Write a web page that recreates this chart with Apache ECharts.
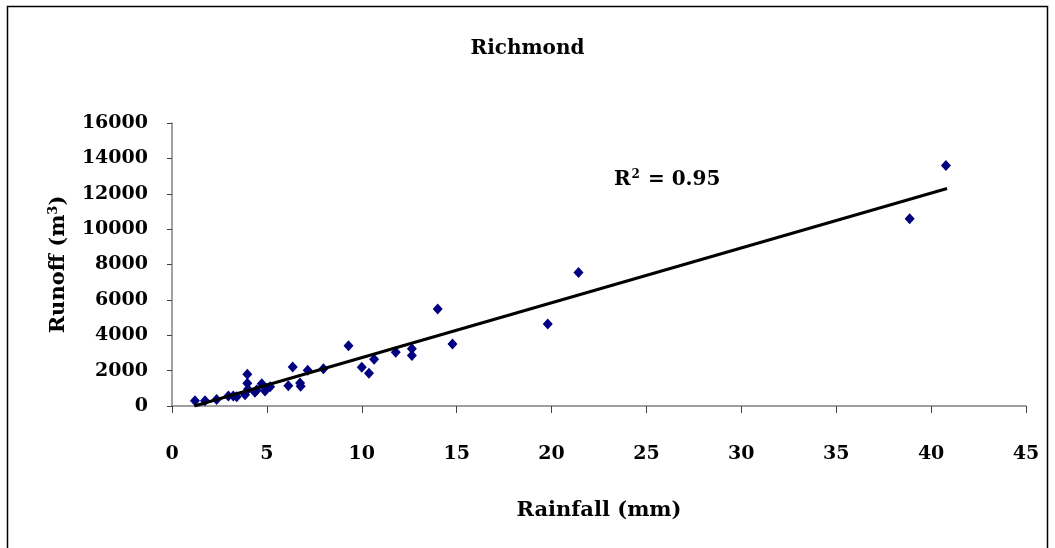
<!DOCTYPE html>
<html>
<head>
<meta charset="utf-8">
<script src="https://cdn.jsdelivr.net/npm/echarts@6/dist/echarts.min.js"></script>
<style>
html,body{margin:0;padding:0;background:#fff;}
#chart{width:1055px;height:548px;}
</style>
</head>
<body>
<div id="chart"></div>
<script>
// Data
const rainfall = [1.21, 1.74, 2.35, 2.97, 3.23, 3.41, 3.97, 3.97, 3.85, 4.0, 4.37, 4.46, 4.73, 4.9, 5.0, 5.17, 6.13, 6.36, 6.75, 6.78, 7.15, 7.98, 9.3, 10.0, 10.38, 10.65, 11.79, 12.64, 12.64, 14.0, 14.78, 19.8, 21.42, 38.87, 40.78];
const runoff   = [300, 300, 370, 566, 560, 520, 1795, 1285, 640, 950, 780, 900, 1260, 850, 1000, 1094, 1140, 2210, 1300, 1110, 2020, 2110, 3400, 2193, 1850, 2646, 3043, 3230, 2850, 5479, 3500, 4630, 7553, 10580, 13600];
const trendX = [1.18, 40.84];
const trendY = [0, 12295];
const xTicks = [0, 5, 10, 15, 20, 25, 30, 35, 40, 45];
const yTicks = [0, 2000, 4000, 6000, 8000, 10000, 12000, 14000, 16000];
const titleText = 'Richmond';
const rSquared = '0.95';

const serif = '"DejaVu Serif", "Liberation Serif", serif';
const chart = echarts.init(document.getElementById('chart'));
chart.setOption({
  animation: false,
  backgroundColor: '#fff',
  title: {
    text: titleText, left: 'center', top: 34,
    textStyle: {fontFamily: serif, fontWeight: 'bold', fontSize: 20, color: '#000'}
  },
  grid: {left: 172, right: 29, top: 123, bottom: 142},
  xAxis: {
    type: 'value', min: xTicks[0], max: xTicks[xTicks.length - 1], interval: 5,
    name: 'Rainfall (mm)', nameLocation: 'middle', nameGap: 94,
    nameTextStyle: {fontFamily: serif, fontWeight: 'bold', fontSize: 21, color: '#000'},
    axisLine: {lineStyle: {color: '#808080', width: 1.5}},
    axisTick: {show: true, length: 7, inside: false, lineStyle: {color: '#404040'}},
    axisLabel: {margin: 39, fontFamily: serif, fontWeight: 'bold', fontSize: 19, color: '#000',
      formatter: v => String(v)},
    splitLine: {show: false}
  },
  yAxis: {
    type: 'value', min: yTicks[0], max: yTicks[yTicks.length - 1], interval: 2000,
    name: '{a|Runoff (m}{s|3}{a|)}', nameLocation: 'middle', nameGap: 102, nameRotate: 90,
    nameTextStyle: {
      rich: {
        a: {fontFamily: serif, fontWeight: 'bold', fontSize: 21, color: '#000'},
        s: {fontFamily: serif, fontWeight: 'bold', fontSize: 13, color: '#000', verticalAlign: 'top', padding: [0, 0, 10, 0]}
      }
    },
    axisLine: {show: true, lineStyle: {color: '#808080', width: 1.5}},
    axisTick: {show: true, length: 5, lineStyle: {color: '#404040'}},
    axisLabel: {margin: 24, fontFamily: serif, fontWeight: 'bold', fontSize: 19, color: '#000',
      formatter: v => String(v)},
    splitLine: {show: false}
  },
  graphic: [
    {type: 'rect', shape: {x: 7.5, y: 6.5, width: 1040, height: 580}, style: {fill: 'none', stroke: '#000', lineWidth: 1.5}, silent: true},
    {type: 'text', left: 614, top: 169, style: {
      text: '{a|R}{s|2}{a| = ' + rSquared + '}',
      rich: {
        a: {fontFamily: serif, fontWeight: 'bold', fontSize: 20, fill: '#000'},
        s: {fontFamily: serif, fontWeight: 'bold', fontSize: 12, fill: '#000', verticalAlign: 'top', padding: [0, 1, 10, 1]}
      }
    }}
  ],
  series: [
    {
      type: 'line', data: trendX.map((x, i) => [x, trendY[i]]),
      showSymbol: false, symbol: 'none', lineStyle: {color: '#000', width: 3}, z: 3
    },
    {
      type: 'scatter', data: rainfall.map((x, i) => [x, runoff[i]]),
      symbol: 'diamond', symbolSize: [10, 11], itemStyle: {color: '#000080', opacity: 1}, z: 2
    }
  ]
});
</script>
</body>
</html>
